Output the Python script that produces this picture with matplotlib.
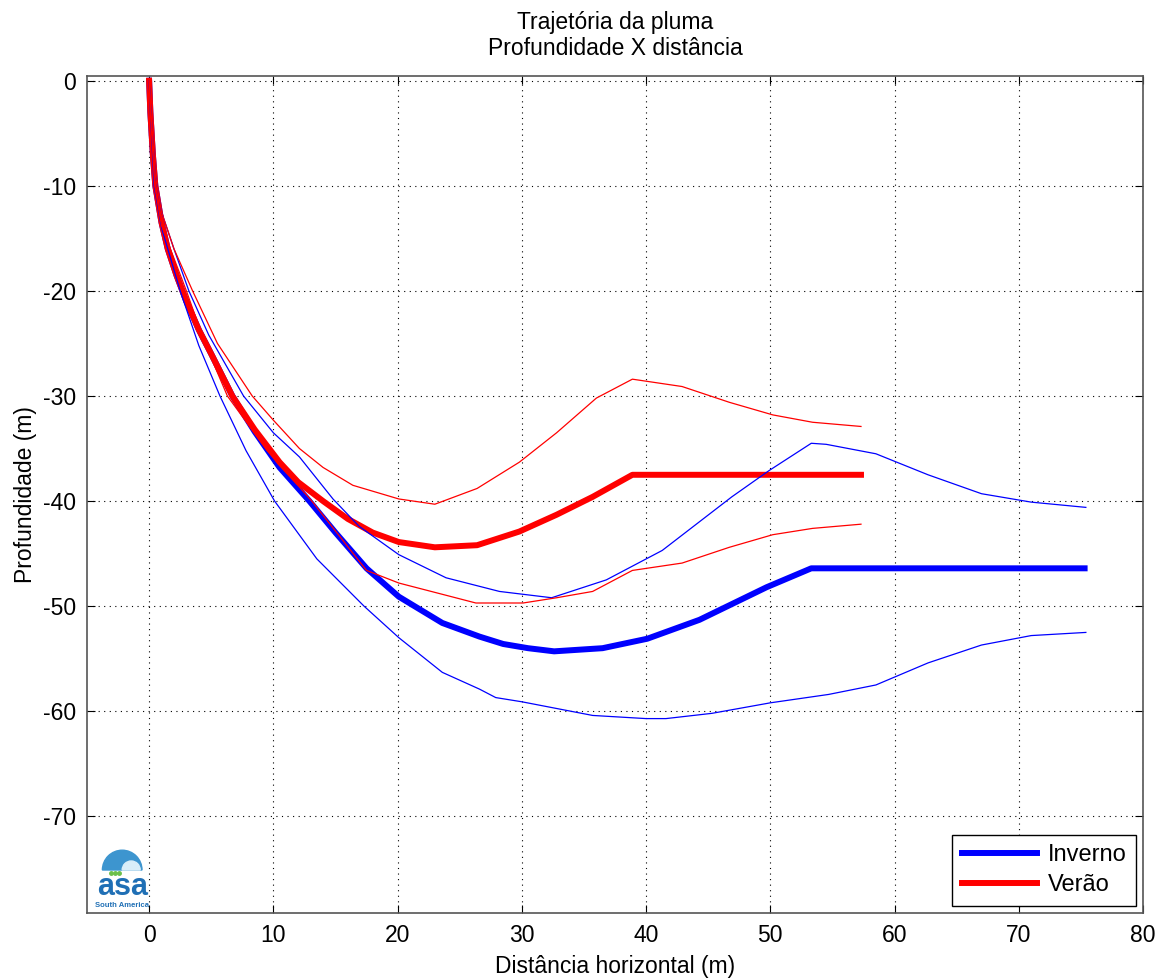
import matplotlib
matplotlib.use('Agg')
from matplotlib import pyplot as plt
from matplotlib.patches import Wedge

plt.rcParams['font.family'] = ['Liberation Sans', 'DejaVu Sans']
plt.rcParams['axes.unicode_minus'] = False

# Inverno (winter) - mean trajectory and envelope
inv_x = [0, 0.1, 0.3, 0.5, 1.0, 1.5, 2.2, 3.0, 4.0, 5.0, 6.7, 8.5, 10.5, 12.9, 15.0, 17.5,
         20.1, 23.6, 26.6, 28.5, 30.5, 32.6, 36.5, 40.1, 44.3, 49.7, 53.3, 75.3]
inv_y = [0, -3, -7, -10, -13.5, -16, -18.5, -21, -23.7, -26, -30, -33.4, -36.8, -40, -43, -46.4,
         -49.1, -51.6, -52.9, -53.6, -54.0, -54.3, -54.0, -53.1, -51.3, -48.2, -46.4, -46.4]

inv_up_x = [0, 0.15, 0.5, 1.0, 2.0, 3.2, 4.8, 7.6, 10.0, 12.1, 14.8, 16.9, 20.1, 23.9, 28.2, 32.4,
            36.8, 41.3, 46.9, 49.9, 53.3, 54.5, 58.5, 62.7, 67.0, 71.0, 75.4]
inv_up_y = [0, -3, -9, -12.5, -16, -20, -24.2, -30, -33.5, -35.8, -39.8, -42.4, -45.1, -47.3, -48.6, -49.2,
            -47.5, -44.7, -39.6, -37.1, -34.5, -34.6, -35.5, -37.5, -39.3, -40.1, -40.6]

inv_lo_x = [0, 0.1, 0.4, 1.0, 2.5, 4.0, 5.7, 7.8, 10.1, 13.5, 17.3, 20.1, 23.6, 26.6, 27.9,
            30.0, 35.7, 40.0, 41.6, 45.3, 50.0, 54.7, 58.5, 62.7, 67.0, 71.0, 75.4]
inv_lo_y = [0, -3, -10, -14, -20, -25.2, -30, -35.2, -40, -45.5, -50, -53, -56.3, -57.9, -58.7,
            -59.1, -60.4, -60.7, -60.7, -60.2, -59.2, -58.4, -57.5, -55.4, -53.7, -52.8, -52.5]

# Verao (summer) - mean trajectory and envelope
ver_x = [0, 0.1, 0.3, 0.5, 1.0, 1.5, 2.2, 3.0, 4.0, 5.0, 6.7, 8.5, 10.5, 12.0, 14.0, 16.0,
         18.0, 20.1, 23.0, 26.4, 29.8, 32.8, 35.7, 38.9, 57.3]
ver_y = [0, -3, -7, -10, -13.5, -16, -18.5, -21, -23.7, -26, -30, -33.2, -36.3, -38.2, -40, -41.7,
         -43.0, -43.9, -44.4, -44.2, -42.9, -41.3, -39.6, -37.5, -37.5]

ver_up_x = [0, 0.15, 0.5, 1.0, 2.0, 3.5, 5.5, 8.3, 10.0, 12.1, 14.0, 16.4, 20.1, 23.0, 26.4,
            29.8, 32.8, 36.0, 38.9, 42.9, 46.7, 50.2, 53.4, 57.3]
ver_up_y = [0, -3, -9, -12.5, -16, -20, -25, -30, -32.3, -35, -36.8, -38.5, -39.8, -40.3, -38.8,
            -36.3, -33.5, -30.2, -28.4, -29.1, -30.6, -31.8, -32.5, -32.9]

ver_lo_x = [0, 0.1, 0.45, 1.0, 3.0, 4.5, 6.3, 9.5, 13.1, 17.5, 20.1, 26.3, 30.1, 32.8, 35.7,
            38.9, 42.9, 46.7, 50.2, 53.4, 57.3]
ver_lo_y = [0, -3, -10, -13.8, -20, -25, -30, -35.2, -40, -46.6, -47.8, -49.7, -49.7, -49.2, -48.6,
            -46.6, -45.9, -44.4, -43.2, -42.6, -42.2]

fig = plt.figure(figsize=(11.72, 9.8), dpi=100)
ax = fig.add_axes([87/1172, 1 - 913/980, 1056/1172, 837/980])

ax.plot(inv_x, inv_y, color='#0000ff', lw=4.3, solid_joinstyle='round', label='Inverno', zorder=3)
ax.plot(ver_x, ver_y, color='#ff0000', lw=4.3, solid_joinstyle='round', label='Verão', zorder=3)
ax.plot(inv_up_x, inv_up_y, color='#0000ff', lw=0.9, zorder=4)
ax.plot(inv_lo_x, inv_lo_y, color='#0000ff', lw=0.9, zorder=4)
ax.plot(ver_up_x, ver_up_y, color='#ff0000', lw=0.9, zorder=4)
ax.plot(ver_lo_x, ver_lo_y, color='#ff0000', lw=0.9, zorder=4)

ax.set_xlim(-5, 80)
ax.set_ylim(-79.2, 0.45)
ax.set_xticks(range(0, 81, 10))
ax.set_yticks(range(-70, 1, 10))
ax.grid(True, color='black', linestyle=(0, (1, 4)), linewidth=0.8)
ax.tick_params(direction='in', top=True, right=True, length=6, labelsize=16.5, pad=8)
for s in ax.spines.values():
    s.set_color('#555555')
    s.set_linewidth(1.2)

ax.set_xlabel('Distância horizontal (m)', fontsize=16.5, labelpad=6)
ax.set_ylabel('Profundidade (m)', fontsize=16.5, labelpad=4)
ax.set_title('Trajetória da pluma\nProfundidade X distância', fontsize=16.5, pad=15, linespacing=1.2)

leg = ax.legend(loc='lower right', fontsize=17, fancybox=False, edgecolor='black',
                framealpha=1, handlelength=3.2, handletextpad=0.45, borderaxespad=0.3,
                labelspacing=0.35)
leg.get_frame().set_linewidth(1.0)

# logo
lax = fig.add_axes([94/1172, 1 - 909/980, 60/1172, 60/980])
lax.set_xlim(0, 1)
lax.set_ylim(0, 1)
lax.axis('off')
lax.add_patch(Wedge((0.47, 0.65), 0.33, 0, 180, color='#3d95cf'))
lax.add_patch(Wedge((0.62, 0.65), 0.15, 0, 180, color='#d9eef9'))
for cx in [0.28, 0.35, 0.42]:
    lax.plot(cx, 0.6, 'o', color='#6cc04a', ms=2.5)
lax.text(0.47, 0.23, 'asa', color='#1f6fb5', fontsize=22, fontweight='bold', ha='center', va='baseline')
lax.text(0.47, 0.0, 'South America', color='#1f6fb5', fontsize=5.5, fontweight='bold', ha='center', va='bottom')

fig.savefig('out.png', dpi=100)
